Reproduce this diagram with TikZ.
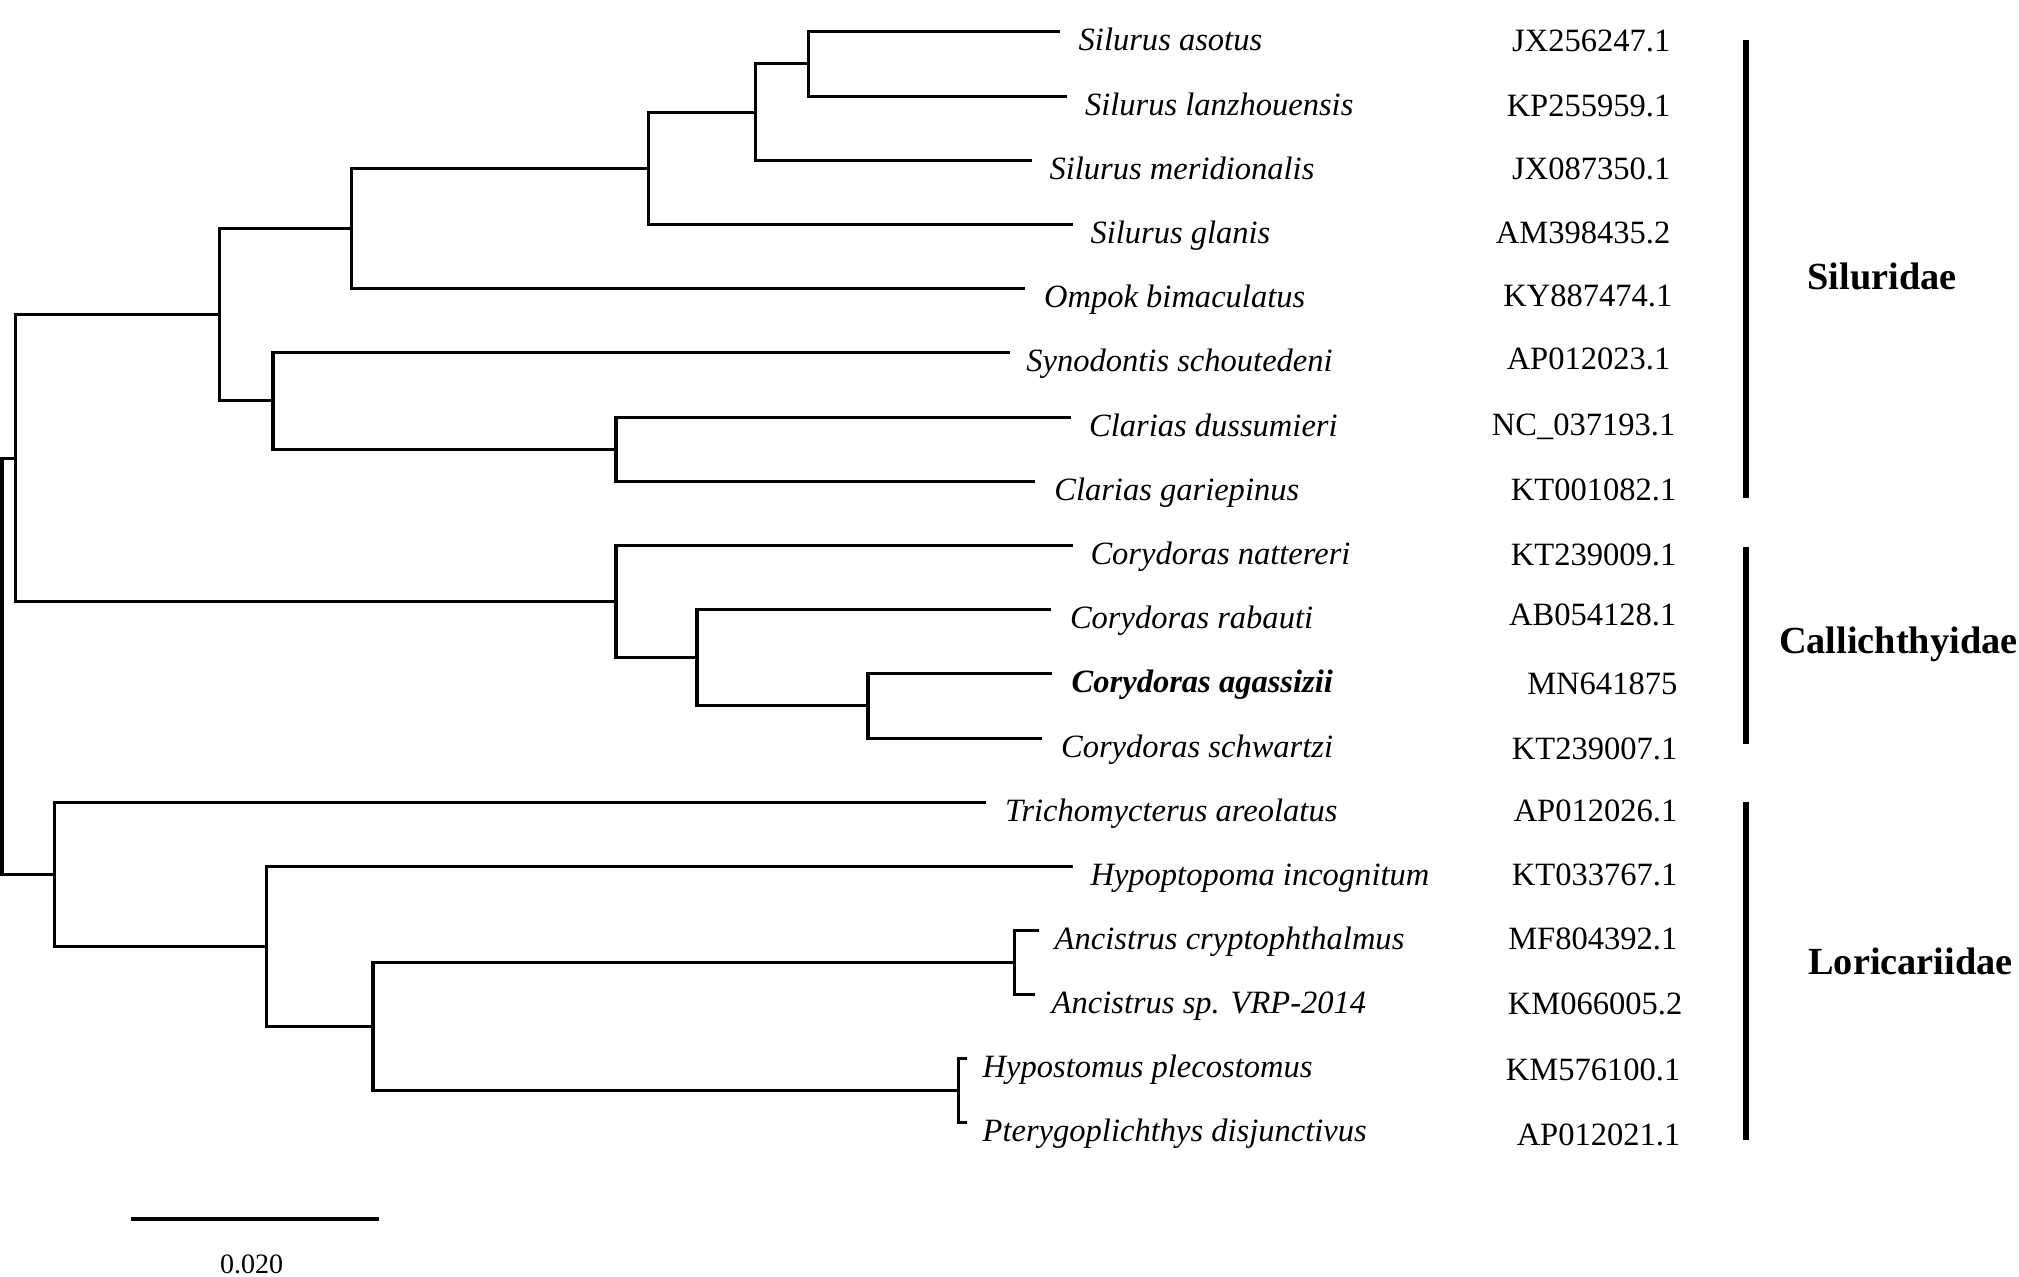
\documentclass[tikz,border=0pt]{standalone}
\usepackage{fontspec}
\setmainfont{Liberation Serif}
\usetikzlibrary{positioning}

\begin{document}
\begin{tikzpicture}[
x=0.01cm, y=-0.01cm,
branch/.style={line width=0.9pt},
cladebar/.style={line width=1.7pt},
scalebar/.style={line width=1.2pt},
taxon/.style={anchor=base west, inner sep=0pt, font=\fontsize{9.25}{11}\selectfont\itshape},
accession/.style={anchor=base east, inner sep=0pt, font=\fontsize{9.25}{11}\selectfont},
family/.style={anchor=base west, inner sep=0pt, font=\fontsize{10.9}{13}\selectfont\bfseries},
]
\useasboundingbox (0,0) rectangle (2019,1277);

%Tips
\coordinate (asotus) at (1060.4,31.4);
\coordinate (lanzhou) at (1067,96.3);
\coordinate (meridion) at (1031.8,160.8);
\coordinate (glanis) at (1073.4,224.5);
\coordinate (ompok) at (1025,288.6);
\coordinate (synod) at (1010,352.7);
\coordinate (dussum) at (1070.7,417.1);
\coordinate (garie) at (1035.2,481.2);
\coordinate (natter) at (1073.4,545.7);
\coordinate (rabauti) at (1050.9,609.8);
\coordinate (agassiz) at (1052.3,673.6);
\coordinate (schwartz) at (1042,738.2);
\coordinate (tricho) at (985.5,802.3);
\coordinate (hypopt) at (1072.7,866.4);
\coordinate (anccryp) at (1038.6,930.2);
\coordinate (ancsp) at (1035.2,994.5);
\coordinate (hypost) at (967,1058.7);
\coordinate (pteryg) at (967,1122.8);

%Internal nodes
\coordinate (nA) at (808.7,63.85);
\coordinate (nB) at (755.7,112.3);
\coordinate (nC) at (648.6,168.4);
\coordinate (nD) at (351.4,228.5);
\coordinate (nG) at (616,449.15);
\coordinate (nF) at (273,400.9);
\coordinate (nE) at (219.4,314.7);
\coordinate (nK) at (868,705.9);
\coordinate (nJ) at (697,657.85);
\coordinate (nI) at (616,601.8);
\coordinate (nH) at (15.3,458.2);
\coordinate (nP) at (1014.8,962.35);
\coordinate (nO) at (958.5,1090.75);
\coordinate (nN) at (373,1026.55);
\coordinate (nM) at (266.6,946.5);
\coordinate (nL) at (54.2,874.4);
\coordinate (root) at (2,666.3);

%Branches
\draw[branch] (nA) |- (asotus);
\draw[branch] (nA) |- (lanzhou);
\draw[branch] (nB) |- (nA);
\draw[branch] (nB) |- (meridion);
\draw[branch] (nC) |- (nB);
\draw[branch] (nC) |- (glanis);
\draw[branch] (nD) |- (nC);
\draw[branch] (nD) |- (ompok);
\draw[branch] (nG) |- (dussum);
\draw[branch] (nG) |- (garie);
\draw[branch] (nF) |- (synod);
\draw[branch] (nF) |- (nG);
\draw[branch] (nE) |- (nD);
\draw[branch] (nE) |- (nF);
\draw[branch] (nK) |- (agassiz);
\draw[branch] (nK) |- (schwartz);
\draw[branch] (nJ) |- (rabauti);
\draw[branch] (nJ) |- (nK);
\draw[branch] (nI) |- (natter);
\draw[branch] (nI) |- (nJ);
\draw[branch] (nH) |- (nE);
\draw[branch] (nH) |- (nI);
\draw[branch] (nP) |- (anccryp);
\draw[branch] (nP) |- (ancsp);
\draw[branch] (nO) |- (hypost);
\draw[branch] (nO) |- (pteryg);
\draw[branch] (nN) |- (nP);
\draw[branch] (nN) |- (nO);
\draw[branch] (nM) |- (hypopt);
\draw[branch] (nM) |- (nN);
\draw[branch] (nL) |- (tricho);
\draw[branch] (nL) |- (nM);
\draw[branch] (root) |- (nH);
\draw[branch] (root) |- (nL);

%Species
\node[taxon] (asotusl) at (1078,50.4) {Silurus asotus};
\node[taxon] (lanzhoul) at (1084.3,115.3) {Silurus lanzhouensis};
\node[taxon] (meridionl) at (1048.9,179.8) {Silurus meridionalis};
\node[taxon] (glanisl) at (1089.8,243.5) {Silurus glanis};
\node[taxon] (ompokl) at (1043.4,307.6) {Ompok bimaculatus};
\node[taxon] (synodl) at (1025.7,371.7) {Synodontis schoutedeni};
\node[taxon] (dussuml) at (1088.4,436.1) {Clarias dussumieri};
\node[taxon] (gariel) at (1053.6,500.2) {Clarias gariepinus};
\node[taxon] (natterl) at (1089.8,564.7) {Corydoras nattereri};
\node[taxon] (rabautil) at (1069.3,628.8) {Corydoras rabauti};
\node[taxon, font=\fontsize{9.25}{11}\selectfont\bfseries\itshape] (agassizl) at (1071,692.6) {Corydoras agassizii};
\node[taxon] (schwartzl) at (1060.4,757.2) {Corydoras schwartzi};
\node[taxon] (trichol) at (1004.5,821.3) {Trichomycterus areolatus};
\node[taxon] (hypoptl) at (1089.8,885.4) {Hypoptopoma incognitum};
\node[taxon] (anccrypl) at (1054,949.2) {Ancistrus cryptophthalmus};
\node[taxon] (ancspl) at (1051,1013.5) {Ancistrus sp. VRP-2014};
\node[taxon] (hypostl) at (982,1077.7) {Hypostomus plecostomus};
\node[taxon] (pterygl) at (982,1141.8) {Pterygoplichthys disjunctivus};

%Accessions
\node[accession] (asotusa) at (1671,51.5) {JX256247.1};
\node[accession] (lanzhoua) at (1671,116.3) {KP255959.1};
\node[accession] (meridiona) at (1671,179.8) {JX087350.1};
\node[accession] (glanisa) at (1671,243.5) {AM398435.2};
\node[accession] (ompoka) at (1673,306.6) {KY887474.1};
\node[accession] (synoda) at (1671,369.7) {AP012023.1};
\node[accession] (dussuma) at (1676,435.1) {NC\_037193.1};
\node[accession] (gariea) at (1677,500.2) {KT001082.1};
\node[accession] (nattera) at (1677,565.2) {KT239009.1};
\node[accession] (rabautia) at (1677,625.8) {AB054128.1};
\node[accession] (agassiza) at (1678,694.6) {MN641875};
\node[accession] (schwartza) at (1678,759.7) {KT239007.1};
\node[accession] (trichoa) at (1678,821.3) {AP012026.1};
\node[accession] (hypopta) at (1678,885.4) {KT033767.1};
\node[accession] (anccrypa) at (1678,949.2) {MF804392.1};
\node[accession] (ancspa) at (1683,1014) {KM066005.2};
\node[accession] (hyposta) at (1681,1080.5) {KM576100.1};
\node[accession] (pteryga) at (1681,1145.5) {AP012021.1};

%Families
\coordinate (silt) at (1746,40);
\coordinate (silb) at (1746,498);
\coordinate (callt) at (1746,547);
\coordinate (callb) at (1746,743.6);
\coordinate (lort) at (1746,802);
\coordinate (lorb) at (1746,1139.6);
\draw[cladebar] (silt) -- (silb);
\draw[cladebar] (callt) -- (callb);
\draw[cladebar] (lort) -- (lorb);
\node[family] (siluridae) at (1806.7,290) {Siluridae};
\node[family] (callichthyidae) at (1778.3,653.3) {Callichthyidae};
\node[family] (loricariidae) at (1807.6,974) {Loricariidae};

%Scale
\coordinate (scalel) at (131,1219);
\coordinate (scaler) at (379,1219);
\draw[scalebar] (scalel) -- (scaler);
\node[anchor=base, inner sep=0pt, font=\fontsize{7.97}{10}\selectfont] (scalelabel) at (251.7,1273.3) {0.020};

\end{tikzpicture}
\end{document}
